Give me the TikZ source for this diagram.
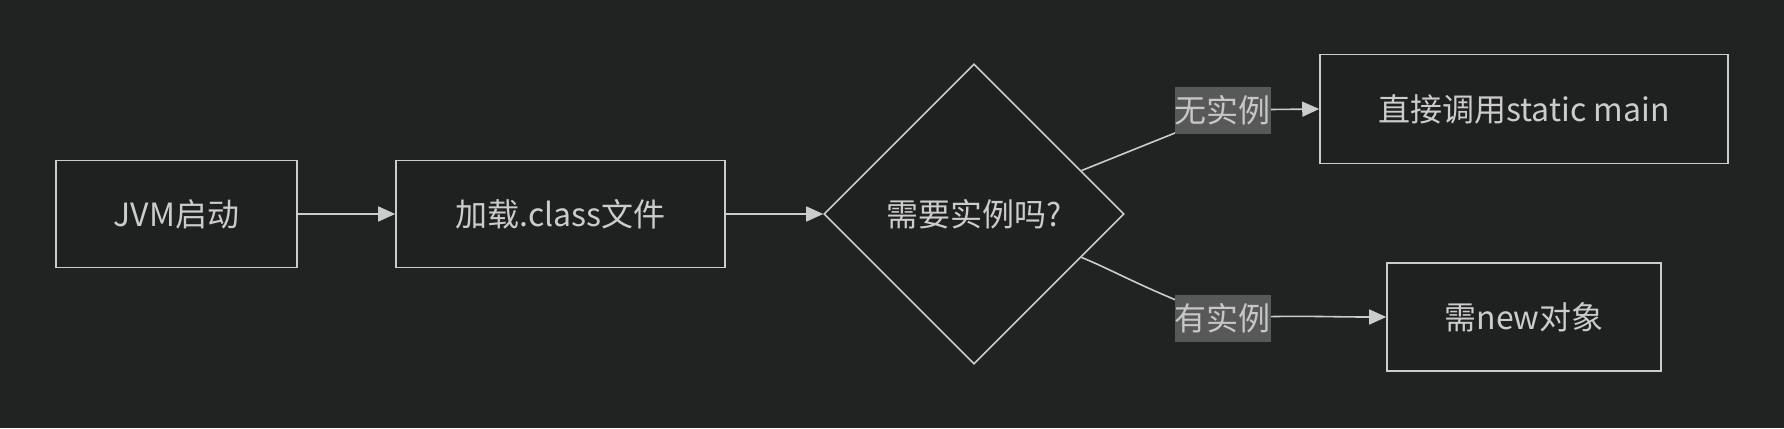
\documentclass[tikz,border=0pt]{standalone}
\usepackage{fontspec}
\setmainfont{Noto Sans CJK SC}
\usetikzlibrary{arrows.meta,shapes.geometric}
\definecolor{bgc}{HTML}{212222}
\definecolor{fgc}{HTML}{CCCCCC}
\definecolor{lblc}{HTML}{585858}
\definecolor{boxc}{HTML}{1F2020}
\tikzset{
  boxnode/.style={draw=fgc, line width=1.6pt, fill=boxc, text=fgc, inner sep=0pt,
    font=\fontsize{32}{35}\selectfont},
  decision/.style={diamond, aspect=1, draw=fgc, line width=1.6pt, fill=boxc, text=fgc,
    inner sep=0pt, minimum size=300pt, font=\fontsize{32}{35}\selectfont},
  edgelabel/.style={fill=lblc, text=fgc!110, inner sep=0pt, minimum width=95pt, minimum height=47pt,
    font=\fontsize{32}{35}\selectfont},
  conn/.style={draw=fgc, line width=1.6pt, -{Triangle[length=17pt,width=15pt]}},
}
\begin{document}
\begin{tikzpicture}[x=1pt,y=-1pt]
\fill[bgc] (0,0) rectangle (1784,428);
\useasboundingbox (0,0) rectangle (1784,428);
\node[boxnode, minimum width=241pt, minimum height=107pt] (jvm) at (176.5,214) {JVM启动};
\node[boxnode, minimum width=329pt, minimum height=107pt] (load) at (560.5,214) {加载.class文件};
\node[decision] (q) at (974,214) {需要实例吗?};
\node[boxnode, minimum width=408pt, minimum height=109pt] (top) at (1524,109) {直接调用static main};
\node[boxnode, minimum width=274pt, minimum height=108pt] (bot) at (1524,317) {需new对象};
\coordinate (b1) at (1175,133);
\draw[conn] (jvm.east) -- (load.west);
\draw[conn] (load.east) -- (q.west);
\draw[conn] (q.22) -- (b1) .. controls (1200,123) and (1210,110) .. (1222.5,110) -- (top.west);
\draw[conn] (q.-22) .. controls (1115,271) and (1150,292) .. (1222.5,318) .. controls (1300,315) and (1320,317) .. (bot.west);
\node[edgelabel] (l1) at (1222.5,110) {无实例};
\node[edgelabel] (l2) at (1222.5,318) {有实例};
\end{tikzpicture}
\end{document}
